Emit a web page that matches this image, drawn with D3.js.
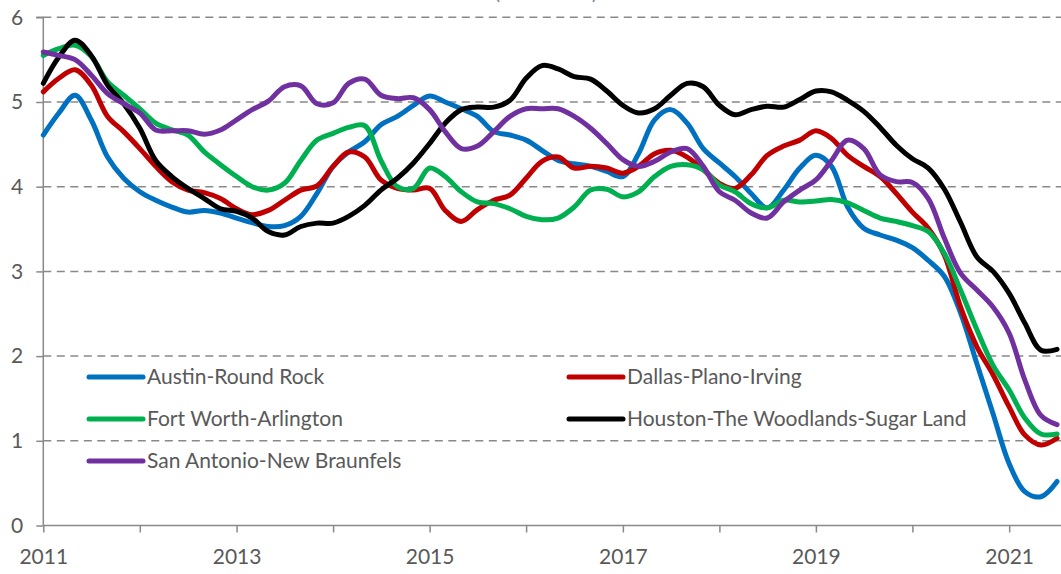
<!DOCTYPE html>
<html>
<head>
<meta charset="utf-8">
<script src="https://cdn.jsdelivr.net/npm/d3@7"></script>
<style>
  html, body { margin: 0; padding: 0; background: #fff; }
  svg { display: block; }
  text { font-family: Lato, "Open Sans", sans-serif; }
</style>
</head>
<body>
<svg id="chart" width="1061" height="574"></svg>
<script>
// ---- Data (bi-monthly readings) ----
const dates = [
  "2011-01","2011-03","2011-05","2011-07","2011-09","2011-11",
  "2012-01","2012-03","2012-05","2012-07","2012-09","2012-11",
  "2013-01","2013-03","2013-05","2013-07","2013-09","2013-11",
  "2014-01","2014-03","2014-05","2014-07","2014-09","2014-11",
  "2015-01","2015-03","2015-05","2015-07","2015-09","2015-11",
  "2016-01","2016-03","2016-05","2016-07","2016-09","2016-11",
  "2017-01","2017-03","2017-05","2017-07","2017-09","2017-11",
  "2018-01","2018-03","2018-05","2018-07","2018-09","2018-11",
  "2019-01","2019-03","2019-05","2019-07","2019-09","2019-11",
  "2020-01","2020-03","2020-05","2020-07","2020-09","2020-11",
  "2021-01","2021-03","2021-05","2021-07"
];

const austin = [
  4.61,4.87,5.08,4.79,4.35,4.10, 3.94,3.84,3.76,3.70,3.72,3.69,
  3.63,3.575,3.53,3.54,3.65,3.92, 4.24,4.41,4.53,4.73,4.83,4.96,
  5.07,5.00,4.92,4.83,4.65,4.61, 4.55,4.43,4.31,4.27,4.24,4.18,
  4.12,4.39,4.79,4.91,4.75,4.45, 4.28,4.12,3.92,3.75,3.96,4.22,
  4.37,4.24,3.76,3.51,3.43,3.37, 3.28,3.13,2.94,2.51,1.91,1.32,
  0.73,0.40,0.34,0.52
];
const dallas = [
  5.12,5.28,5.38,5.20,4.83,4.65, 4.45,4.24,4.06,3.96,3.93,3.86,
  3.74,3.67,3.72,3.84,3.96,4.01, 4.24,4.41,4.35,4.08,3.98,3.96,
  3.98,3.72,3.59,3.73,3.84,3.90, 4.10,4.30,4.35,4.22,4.24,4.22,
  4.16,4.24,4.39,4.43,4.35,4.20, 4.04,3.98,4.14,4.37,4.48,4.55,
  4.66,4.57,4.37,4.24,4.12,3.92, 3.70,3.51,3.19,2.58,2.11,1.78,
  1.40,1.07,0.95,1.03
];
const fortWorth = [
  5.55,5.63,5.67,5.54,5.24,5.08, 4.92,4.75,4.67,4.61,4.41,4.26,
  4.12,4.00,3.96,4.04,4.31,4.55, 4.63,4.70,4.72,4.31,4.00,3.98,
  4.22,4.12,3.94,3.82,3.80,3.74, 3.65,3.61,3.63,3.76,3.96,3.97,
  3.88,3.94,4.12,4.24,4.26,4.20, 4.02,3.94,3.80,3.75,3.84,3.82,
  3.83,3.85,3.81,3.72,3.63,3.59, 3.54,3.47,3.21,2.78,2.31,1.89,
  1.60,1.27,1.08,1.08
];
const houston = [
  5.22,5.53,5.73,5.55,5.20,4.98, 4.69,4.31,4.12,3.98,3.86,3.74,
  3.71,3.63,3.47,3.43,3.53,3.57, 3.57,3.65,3.78,3.96,4.10,4.28,
  4.51,4.75,4.91,4.94,4.94,5.02, 5.28,5.43,5.39,5.30,5.27,5.13,
  4.96,4.87,4.92,5.08,5.22,5.18, 4.96,4.85,4.91,4.95,4.94,5.03,
  5.13,5.12,5.02,4.89,4.70,4.49, 4.33,4.22,3.97,3.58,3.17,3.00,
  2.74,2.39,2.07,2.08
];
const sanAntonio = [
  5.59,5.55,5.50,5.32,5.10,4.98, 4.87,4.67,4.66,4.66,4.62,4.67,
  4.79,4.91,5.01,5.18,5.19,4.98, 4.99,5.22,5.27,5.08,5.04,5.05,
  4.91,4.65,4.45,4.48,4.65,4.83, 4.92,4.92,4.92,4.83,4.69,4.51,
  4.32,4.24,4.30,4.41,4.45,4.24, 3.94,3.84,3.69,3.63,3.82,3.96,
  4.08,4.31,4.55,4.45,4.14,4.06, 4.05,3.86,3.39,2.98,2.78,2.58,
  2.27,1.72,1.30,1.19
];

const seriesNames = [
  "Austin-Round Rock", "Dallas-Plano-Irving", "Fort Worth-Arlington",
  "Houston-The Woodlands-Sugar Land", "San Antonio-New Braunfels"
];
const seriesColors = ["#0070C0", "#C00000", "#00B050", "#000000", "#7030A0"];
const seriesValues = [austin, dallas, fortWorth, houston, sanAntonio];

const yTicks = [0, 1, 2, 3, 4, 5, 6];
const xTickYears = [2011,2012,2013,2014,2015,2016,2017,2018,2019,2020,2021];
const xLabelYears = [2011, 2013, 2015, 2017, 2019, 2021];
const titleText = "(Percent)";

// ---- Chart ----
const svg = d3.select("#chart");
const parse = d3.timeParse("%Y-%m");
const dateObjs = dates.map(parse);

const x = d3.scaleTime()
  .domain([new Date(2011, 0, 1), new Date(2021, 6, 16)])
  .range([43.3, 1061]);
const y = d3.scaleLinear().domain([0, 6]).range([525.5, 17.3]);

const gridColor = "#898989";
const textColor = "#595959";

// partial title (cropped at top in the reference)
svg.append("text")
  .attr("x", 546).attr("y", -1.5)
  .attr("text-anchor", "middle")
  .attr("font-size", 23)
  .attr("fill", "#7f8ca6")
  .attr("textLength", 104)
  .attr("lengthAdjust", "spacing")
  .text(titleText);

// gridlines
svg.append("g")
  .selectAll("line")
  .data(yTicks.filter(d => d > 0))
  .join("line")
  .attr("x1", x.range()[0]).attr("x2", x.range()[1])
  .attr("y1", d => y(d)).attr("y2", d => y(d))
  .attr("stroke", gridColor)
  .attr("stroke-width", 1.5)
  .attr("stroke-dasharray", "8,5.5");

// y axis
const yAxis = d3.axisLeft(y).tickValues(yTicks).tickSize(7).tickPadding(13).tickFormat(d3.format("d"));
const gy = svg.append("g").attr("transform", `translate(${x.range()[0]},0)`).call(yAxis);
gy.select(".domain").attr("stroke", gridColor).attr("stroke-width", 1.5)
  .attr("d", `M-7,${y(6)}H0V${y(0)}`);
gy.selectAll(".tick line").attr("stroke", gridColor).attr("stroke-width", 1.5);
gy.selectAll(".tick text").attr("fill", textColor).attr("font-size", 21)
  .attr("font-family", "Lato, 'Open Sans', sans-serif");

// x axis
const xAxis = d3.axisBottom(x)
  .tickValues(xTickYears.map(yv => new Date(yv, 0, 1)))
  .tickSize(7).tickPadding(17)
  .tickFormat(d => xLabelYears.includes(d.getFullYear()) ? String(d.getFullYear()) : "");
const gx = svg.append("g").attr("transform", `translate(0,${y(0)})`).call(xAxis);
gx.select(".domain").attr("stroke", gridColor).attr("stroke-width", 1.5)
  .attr("d", `M${x.range()[0]},0H${x.range()[1]}`);
gx.selectAll(".tick line").attr("stroke", gridColor).attr("stroke-width", 1.5);
gx.selectAll(".tick text").attr("fill", textColor).attr("font-size", 21)
  .attr("font-family", "Lato, 'Open Sans', sans-serif");

// lines
const line = d3.line()
  .x((d, i) => x(dateObjs[i]))
  .y(d => y(d))
  .curve(d3.curveCatmullRom.alpha(0.5));

svg.append("g")
  .selectAll("path")
  .data(seriesValues)
  .join("path")
  .attr("d", d => line(d))
  .attr("fill", "none")
  .attr("stroke", (d, i) => seriesColors[i])
  .attr("stroke-width", 5)
  .attr("stroke-linejoin", "round")
  .attr("stroke-linecap", "round");

// legend
const legendPos = [
  {lx: 89, ly: 377}, {lx: 569, ly: 377},
  {lx: 89, ly: 419}, {lx: 569, ly: 419},
  {lx: 89, ly: 461}
];
const lg = svg.append("g")
  .selectAll("g")
  .data(seriesNames)
  .join("g")
  .attr("transform", (d, i) => `translate(${legendPos[i].lx},${legendPos[i].ly})`);
lg.append("line")
  .attr("x1", 0).attr("x2", 54).attr("y1", 0).attr("y2", 0)
  .attr("stroke", (d, i) => seriesColors[i])
  .attr("stroke-width", 5)
  .attr("stroke-linecap", "round");
lg.append("text")
  .attr("x", 58).attr("y", 0).attr("dy", "0.35em")
  .attr("font-size", 21)
  .attr("fill", textColor)
  .text(d => d);
</script>
</body>
</html>
